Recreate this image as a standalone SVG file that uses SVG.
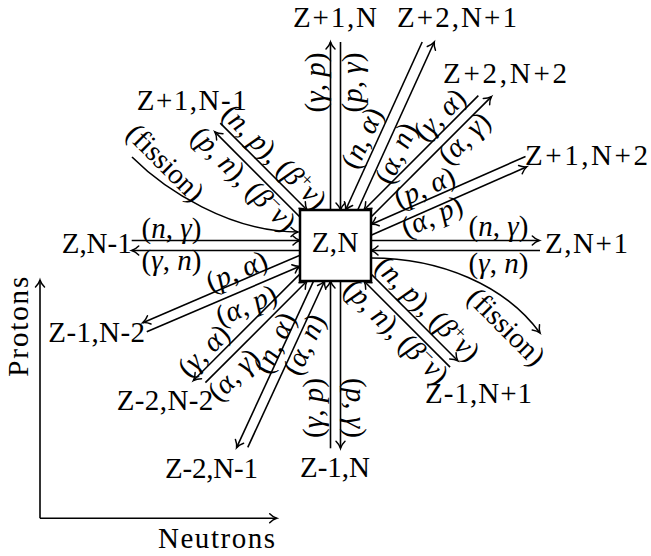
<svg xmlns="http://www.w3.org/2000/svg" width="651" height="556" viewBox="0 0 651 556">
<style>
text{font-family:"Liberation Serif","Times New Roman",serif;fill:#000}
.n{font-size:29px}
.r{font-size:29px;text-anchor:middle}
.i{font-style:italic}
.sp{font-size:19px}
.a{stroke:#000;stroke-width:1.6;fill:none;marker-end:url(#ah)}
</style>
<defs>
<marker id="ah" viewBox="-10 -10 20 20" markerWidth="20" markerHeight="20" refX="0" refY="0" orient="auto" markerUnits="userSpaceOnUse">
<path d="M-7,-4.5 C-4.5,-2 -2,-0.6 0,0 C-2,0.6 -4.5,2 -7,4.5" fill="none" stroke="#000" stroke-width="1.5" stroke-linecap="round"/>
</marker>
</defs>

<g id="connectors">
<!-- up: Z+1,N -->
<g transform="translate(335.5 245.5) rotate(-90)">
<line class="a" x1="0" y1="-5" x2="203.5" y2="-5"/>
<line class="a" x1="203.5" y1="5" x2="35.5" y2="5"/>
<text class="r" transform="translate(163 -18.5)" y="7.5">(<tspan class="i">γ</tspan>, <tspan class="i">p</tspan>)</text>
<text class="r" transform="translate(163 18.5)" y="7.5">(<tspan class="i">p</tspan>, <tspan class="i">γ</tspan>)</text>
</g>
<!-- Z+2,N+1 -->
<g transform="translate(335.5 245.5) rotate(-65.5)">
<line class="a" x1="0" y1="5.5" x2="226.1" y2="5.5"/>
<line class="a" x1="221.1" y1="-5.5" x2="36.5" y2="-5.5"/>
<text class="r" transform="translate(109 -18.5)" y="7.5">(<tspan class="i">n</tspan>, <tspan class="i">α</tspan>)</text>
<text class="r" transform="translate(109 18.5)" y="7.5">(<tspan class="i">α</tspan>, <tspan class="i">n</tspan>)</text>
</g>
<!-- Z+2,N+2 -->
<g transform="translate(335.5 245.5) rotate(-45)">
<line class="a" x1="0" y1="5" x2="215.5" y2="5"/>
<line class="a" x1="207" y1="-5" x2="45.2" y2="-5"/>
<text class="r" transform="translate(166 -17)" y="7.5">(<tspan class="i">γ</tspan>, <tspan class="i">α</tspan>)</text>
<text class="r" transform="translate(167 17)" y="7.5">(<tspan class="i">α</tspan>, <tspan class="i">γ</tspan>)</text>
</g>
<!-- Z+1,N+2 -->
<g transform="translate(335.5 245.5) rotate(-23.75)">
<line class="a" x1="0" y1="5" x2="206.8" y2="5"/>
<line class="a" x1="209.8" y1="-5" x2="41" y2="-5"/>
<text class="r" transform="translate(105 -15.5)" y="7.5">(<tspan class="i">p</tspan>, <tspan class="i">α</tspan>)</text>
<text class="r" transform="translate(100 14)" y="7.5">(<tspan class="i">α</tspan>, <tspan class="i">p</tspan>)</text>
</g>
<!-- Z,N+1 -->
<g transform="translate(335.5 245.5)">
<line class="a" x1="0" y1="-5" x2="203.8" y2="-5"/>
<line class="a" x1="204.5" y1="5" x2="35.5" y2="5"/>
<text class="r" transform="translate(163 -17.2)" y="7.5">(<tspan class="i">n</tspan>, <tspan class="i">γ</tspan>)</text>
<text class="r" transform="translate(163 19.5)" y="7.5">(<tspan class="i">γ</tspan>, <tspan class="i">n</tspan>)</text>
</g>
<!-- Z-1,N+1 -->
<g transform="translate(335.5 245.5) rotate(45)">
<line class="a" x1="0" y1="-5" x2="168" y2="-5"/>
<line class="a" x1="167" y1="5" x2="45.2" y2="5"/>
<text class="r" transform="translate(110 -18.5)" y="7.5">(<tspan class="i">n</tspan>, <tspan class="i">p</tspan>), (<tspan class="i">β</tspan><tspan class="sp" dy="-10">+</tspan><tspan class="i" dy="10">ν</tspan>)</text>
<text class="r" transform="translate(104 19.8)" y="7.5">(<tspan class="i">p</tspan>, <tspan class="i">n</tspan>), (<tspan class="i">β</tspan><tspan class="sp" dy="-10">−</tspan><tspan class="i" dy="10">ν</tspan>)</text>
</g>
<!-- Z-1,N -->
<g transform="translate(335.5 245.5) rotate(90)">
<line class="a" x1="0" y1="-5" x2="202.8" y2="-5"/>
<line class="a" x1="202.8" y1="5" x2="35.5" y2="5"/>
<text class="r" transform="translate(162.5 20.5) rotate(180)" y="7.5">(<tspan class="i">γ</tspan>, <tspan class="i">p</tspan>)</text>
<text class="r" transform="translate(162.5 -17.5)" y="7.5">(<tspan class="i">p</tspan>, <tspan class="i">γ</tspan>)</text>
</g>
<!-- Z-1,N-2 -->
<g transform="translate(335.5 245.5) rotate(156.8)">
<line class="a" x1="0" y1="5" x2="207.5" y2="5"/>
<line class="a" x1="207.5" y1="-5" x2="40.8" y2="-5"/>
<text class="r" transform="translate(101 13.5) rotate(180)" y="7.5">(<tspan class="i">p</tspan>, <tspan class="i">α</tspan>)</text>
<text class="r" transform="translate(105.5 -21.6) rotate(180)" y="7.5">(<tspan class="i">α</tspan>, <tspan class="i">p</tspan>)</text>
</g>
<!-- Z-2,N-2 -->
<g transform="translate(335.5 245.5) rotate(135)">
<line class="a" x1="0" y1="5" x2="196" y2="5"/>
<line class="a" x1="189" y1="-5" x2="45.2" y2="-5"/>
<text class="r" transform="translate(167.6 17) rotate(180)" y="7.5">(<tspan class="i">γ</tspan>, <tspan class="i">α</tspan>)</text>
<text class="r" transform="translate(163.3 -21.2) rotate(180)" y="7.5">(<tspan class="i">α</tspan>, <tspan class="i">γ</tspan>)</text>
</g>
<!-- Z-2,N-1 -->
<g transform="translate(335.5 245.5) rotate(114.8)">
<line class="a" x1="0" y1="5" x2="225" y2="5"/>
<line class="a" x1="220" y1="-5" x2="36.8" y2="-5"/>
<text class="r" transform="translate(114 12.5) rotate(180)" y="7.5">(<tspan class="i">n</tspan>, <tspan class="i">α</tspan>)</text>
<text class="r" transform="translate(103 -15) rotate(180)" y="7.5">(<tspan class="i">α</tspan>, <tspan class="i">n</tspan>)</text>
</g>
<!-- Z+1,N-1 -->
<g transform="translate(335.5 245.5) rotate(-135)">
<line class="a" x1="0" y1="-5" x2="165.6" y2="-5"/>
<line class="a" x1="168" y1="5" x2="45.2" y2="5"/>
<text class="r" transform="translate(106 17.7) rotate(180)" y="7.5">(<tspan class="i">n</tspan>, <tspan class="i">p</tspan>), (<tspan class="i">β</tspan><tspan class="sp" dy="-10">+</tspan><tspan class="i" dy="10">ν</tspan>)</text>
<text class="r" transform="translate(112 -19.8) rotate(180)" y="7.5">(<tspan class="i">p</tspan>, <tspan class="i">n</tspan>), (<tspan class="i">β</tspan><tspan class="sp" dy="-10">−</tspan><tspan class="i" dy="10">ν</tspan>)</text>
</g>
<!-- Z,N-1 -->
<g transform="translate(335.5 245.5) rotate(180)">
<line class="a" x1="0" y1="-5" x2="203.8" y2="-5"/>
<line class="a" x1="203.8" y1="5" x2="35.5" y2="5"/>
<text class="r" transform="translate(164 15) rotate(180)" y="7.5">(<tspan class="i">n</tspan>, <tspan class="i">γ</tspan>)</text>
<text class="r" transform="translate(164 -17) rotate(180)" y="7.5">(<tspan class="i">γ</tspan>, <tspan class="i">n</tspan>)</text>
</g>
<!-- fission -->
<path class="a" d="M132,157 C165,190 230,232 298,232"/>
<text class="r" transform="translate(164 164) rotate(45)" y="7.5">(fission)</text>
<path class="a" d="M371,258 C440,258 505,285 540,333"/>
<text class="r" transform="translate(505 328) rotate(45)" y="7.5">(fission)</text>
</g>

<g id="n-ZN">
<rect x="300" y="210" width="71" height="71" fill="#fff" stroke="#000" stroke-width="2.5"/>
<text class="n" x="311.7" y="252.3" textLength="46.7" lengthAdjust="spacing">Z,N</text>
</g>
<g id="n-Zp1N"><text class="n" x="293" y="27" textLength="84" lengthAdjust="spacing">Z+1,N</text></g>
<g id="n-Zp2Np1"><text class="n" x="397" y="27" textLength="120" lengthAdjust="spacing">Z+2,N+1</text></g>
<g id="n-Zp2Np2"><text class="n" x="443" y="83" textLength="124" lengthAdjust="spacing">Z+2,N+2</text></g>
<g id="n-Zp1Np2"><text class="n" x="525" y="165" textLength="123" lengthAdjust="spacing">Z+1,N+2</text></g>
<g id="n-ZNp1"><text class="n" x="545" y="253" textLength="83" lengthAdjust="spacing">Z,N+1</text></g>
<g id="n-Zm1Np1"><text class="n" x="425" y="403" textLength="107" lengthAdjust="spacing">Z-1,N+1</text></g>
<g id="n-Zm1N"><text class="n" x="300" y="477" textLength="70" lengthAdjust="spacing">Z-1,N</text></g>
<g id="n-Zm2Nm1"><text class="n" x="165" y="478" textLength="93" lengthAdjust="spacing">Z-2,N-1</text></g>
<g id="n-Zm2Nm2"><text class="n" x="116.7" y="410" textLength="96.6" lengthAdjust="spacing">Z-2,N-2</text></g>
<g id="n-Zm1Nm2"><text class="n" x="48.3" y="341.7" textLength="96.7" lengthAdjust="spacing">Z-1,N-2</text></g>
<g id="n-ZNm1"><text class="n" x="61.7" y="253.3" textLength="70" lengthAdjust="spacing">Z,N-1</text></g>
<g id="n-Zp1Nm1"><text class="n" x="136.7" y="110" textLength="110" lengthAdjust="spacing">Z+1,N-1</text></g>

<g id="axes">
<line class="a" x1="40" y1="518.3" x2="40" y2="280"/>
<line class="a" x1="40" y1="518.3" x2="276.7" y2="518.3"/>
<text class="n" transform="translate(28.3 376.7) rotate(-90)" textLength="100" lengthAdjust="spacing">Protons</text>
<text class="n" x="158" y="548" textLength="117" lengthAdjust="spacing">Neutrons</text>
</g>
</svg>
